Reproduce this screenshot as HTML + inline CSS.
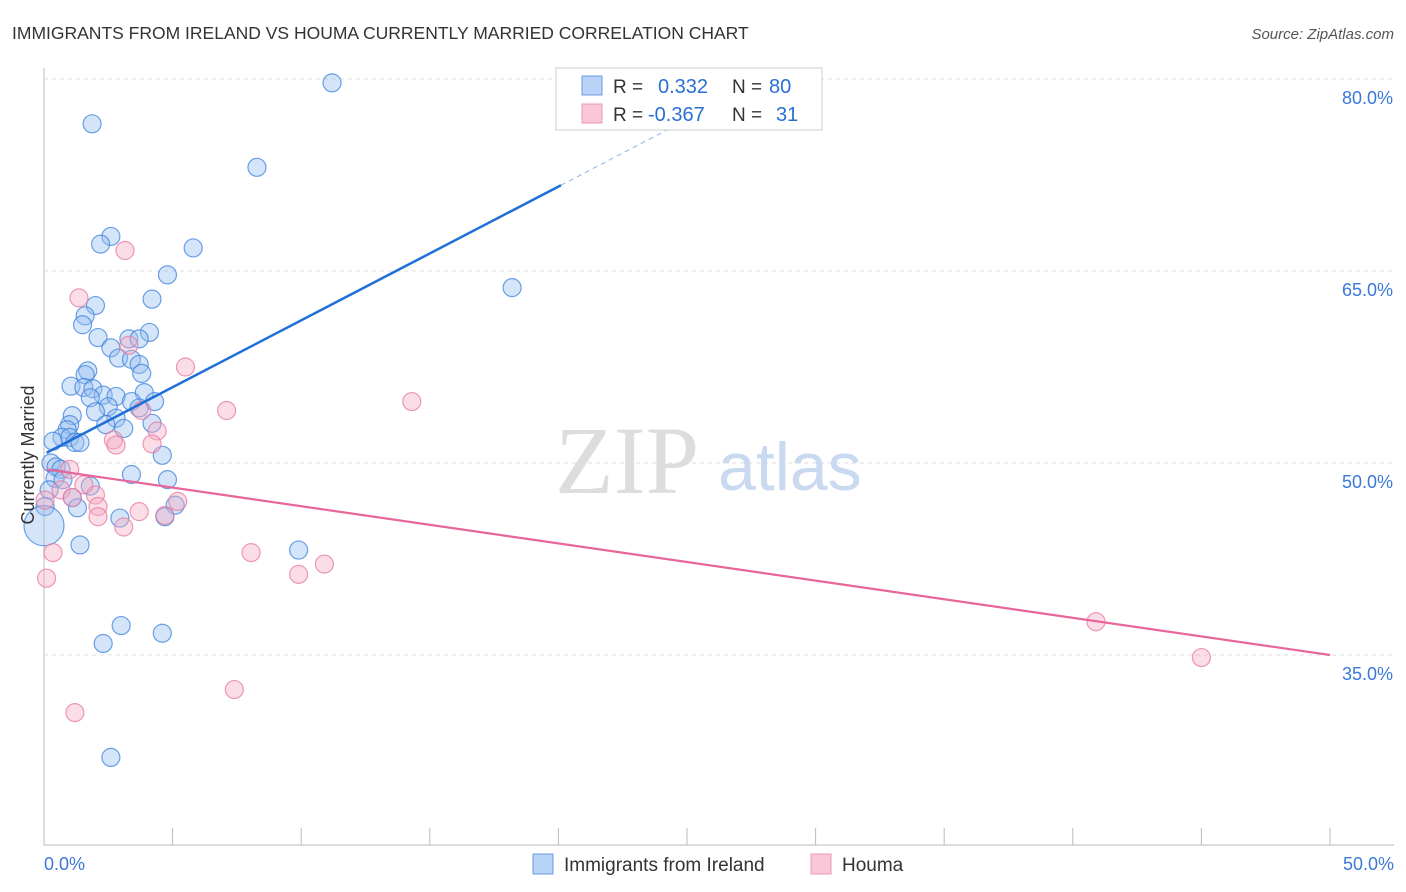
<!DOCTYPE html>
<html><head><meta charset="utf-8"><style>
body{margin:0;background:#fff;font-family:"Liberation Sans",sans-serif}
svg{display:block}
</style></head><body>
<svg width="1406" height="892">
<text x="12" y="39" font-size="17.5" fill="#333">IMMIGRANTS FROM IRELAND VS HOUMA CURRENTLY MARRIED CORRELATION CHART</text>
<text x="1394" y="39" font-size="15" fill="#555" font-style="italic" text-anchor="end">Source: ZipAtlas.com</text>
<g id="grid"></g>
<text x="555" y="493" font-size="96" fill="#ddd" font-family="Liberation Serif">ZIP</text>
<text x="718" y="490" font-size="68" fill="#c9d9f0">atlas</text>
<g id="marks"></g>
<text transform="translate(34,455) rotate(-90)" font-size="18" fill="#333" text-anchor="middle">Currently Married</text>
<g>
<rect x="556" y="68" width="266" height="62" fill="#fff" stroke="#ccc"/>
<rect x="582" y="76" width="20" height="19" fill="#b8d3f5" stroke="#6a9be0"/>
<rect x="582" y="104" width="20" height="19" fill="#f9c7d6" stroke="#ec9ab5"/>
<text x="613" y="93" font-size="19" fill="#333">R =</text><text x="658" y="93" font-size="20" fill="#2a6fd6">0.332</text>
<text x="732" y="93" font-size="19" fill="#333">N =</text><text x="769" y="93" font-size="20" fill="#2a6fd6">80</text>
<text x="613" y="121" font-size="19" fill="#333">R =</text><text x="648" y="121" font-size="20" fill="#2a6fd6">-0.367</text>
<text x="732" y="121" font-size="19" fill="#333">N =</text><text x="776" y="121" font-size="20" fill="#2a6fd6">31</text>
</g>
<g>
<rect x="533" y="854" width="20" height="20" fill="#b8d3f5" stroke="#6a9be0"/>
<text x="564" y="871" font-size="19" fill="#333">Immigrants from Ireland</text>
<rect x="811" y="854" width="20" height="20" fill="#f9c7d6" stroke="#ec9ab5"/>
<text x="842" y="871" font-size="19" fill="#333">Houma</text>
</g>
</svg>
<script>
const xTicks=[0,5,10,15,20,25,30,35,40,45,50];
const yTicks=[35,50,65,80];
const blueX=[11.2,1.87,8.28,2.6,2.2,5.8,4.8,18.2,4.2,2.0,1.6,1.5,4.1,2.1,3.3,3.7,2.6,2.9,3.4,3.7,3.8,1.7,1.6,1.05,1.55,1.9,3.9,2.3,2.8,1.8,3.4,4.3,2.5,3.7,2.0,1.1,2.8,2.4,4.2,1.0,3.1,0.9,0.7,1.0,0.35,1.2,1.4,4.6,0.27,0.47,0.66,3.4,0.43,0.74,4.8,1.8,0.2,1.1,5.1,1.3,0.04,2.95,4.7,1.4,9.9,3.0,4.6,2.3,2.6,0.0];
const blueY=[79.7,76.5,73.1,67.7,67.1,66.8,64.7,63.7,62.8,62.3,61.5,60.8,60.2,59.8,59.7,59.7,59.0,58.2,58.1,57.7,57.0,57.2,56.9,56.0,55.9,55.8,55.5,55.3,55.2,55.1,54.8,54.8,54.4,54.3,54.0,53.7,53.5,53.0,53.1,53.0,52.7,52.6,52.0,52.0,51.7,51.6,51.6,50.6,50.0,49.7,49.5,49.1,48.8,48.7,48.7,48.2,47.9,47.3,46.7,46.5,46.6,45.7,45.8,43.6,43.2,37.3,36.7,35.9,27.0,45.1];
const pinkX=[3.15,1.36,5.5,14.3,7.1,3.8,4.4,4.2,2.7,2.8,3.3,1.0,0.66,2.0,1.1,2.1,3.7,5.2,2.1,4.7,3.1,0.35,8.05,10.9,9.9,0.1,7.4,1.2,40.9,45.0,1.55,0.04];
const pinkY=[66.6,62.9,57.5,54.8,54.1,54.1,52.5,51.5,51.8,51.4,59.2,49.5,47.9,47.5,47.3,46.6,46.2,47.0,45.8,45.9,45.0,43.0,43.0,42.1,41.3,41.0,32.3,30.5,37.6,34.8,48.3,47.1];
const blueLine=[[0.1,50.8],[20.1,71.7],[26.5,78.4]];
const pinkLine=[[0.1,49.5],[50,35.0]];
const X=v=>44+v/50*1286, Y=v=>79+(80-v)*12.8;
const NS="http://www.w3.org/2000/svg";
const g=document.getElementById('grid'), m=document.getElementById('marks');
function mk(p,tag,a){const e=document.createElementNS(NS,tag);for(const k in a)e.setAttribute(k,a[k]);p.appendChild(e);return e;}
mk(g,'line',{x1:44,y1:68,x2:44,y2:845,stroke:'#bbb'});
mk(g,'line',{x1:44,y1:845,x2:1394,y2:845,stroke:'#bbb'});
yTicks.forEach(t=>{
 const l=mk(g,'line',{x1:44,y1:Y(t),x2:1394,y2:Y(t),stroke:'#ddd','stroke-dasharray':'4,4'});
 
 
 const tx=mk(g,'text',{x:1393,y:Y(t)+25,'font-size':18,fill:'#3b78d8','text-anchor':'end'});
 tx.textContent=t.toFixed(1)+'%';
 
 
});
xTicks.forEach(t=>{
 const l=mk(g,'line',{x1:X(t),y1:828,x2:X(t),y2:845,stroke:'#bbb'});
 
 
});
[[0,'start',44],[50,'end',1394]].forEach(([t,a,x])=>{
 const tx=mk(g,'text',{x:x,y:870,'font-size':18,fill:'#3b78d8','text-anchor':a});
 tx.textContent=t.toFixed(1)+'%';
 
 
});
blueX.forEach((v,i)=>{
 const c=mk(m,'circle',{cx:X(v),cy:Y(blueY[i]),r:i===blueX.length-1?20:9,fill:'rgba(150,190,240,0.4)',stroke:'rgba(60,130,220,0.75)','stroke-width':1.2});
 
 
});
pinkX.forEach((v,i)=>{
 const c=mk(m,'circle',{cx:X(v),cy:Y(pinkY[i]),r:9,fill:'rgba(245,170,195,0.4)',stroke:'rgba(230,120,160,0.75)','stroke-width':1.2});
 
 
});
const b1=mk(m,'line',{x1:X(blueLine[0][0]),y1:Y(blueLine[0][1]),x2:X(blueLine[1][0]),y2:Y(blueLine[1][1]),stroke:'#1f6fd8','stroke-width':2.5});


const b2=mk(m,'line',{x1:X(blueLine[1][0]),y1:Y(blueLine[1][1]),x2:X(blueLine[2][0]),y2:Y(blueLine[2][1]),stroke:'#8fb3e6','stroke-width':1,'stroke-dasharray':'5,4'});


const p1=mk(m,'line',{x1:X(pinkLine[0][0]),y1:Y(pinkLine[0][1]),x2:X(pinkLine[1][0]),y2:Y(pinkLine[1][1]),stroke:'#e8669a','stroke-width':2.2});


</script>
</body></html>
